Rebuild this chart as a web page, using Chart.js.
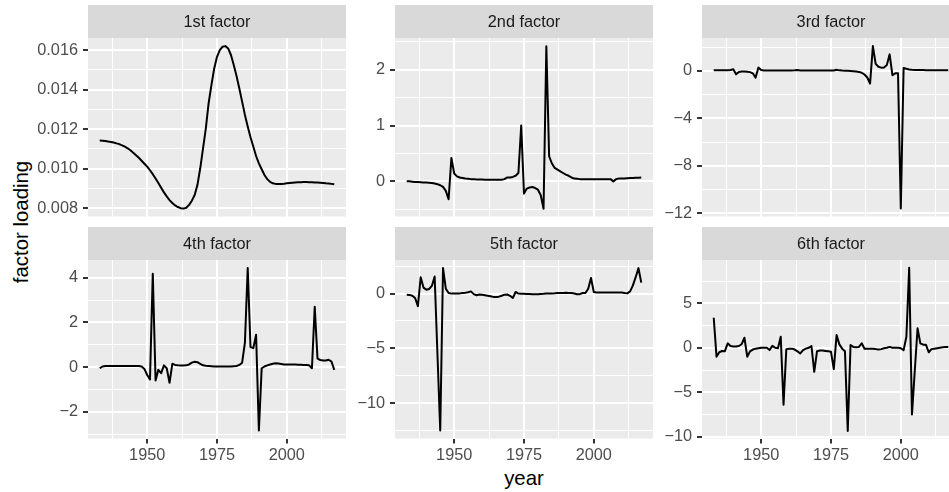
<!DOCTYPE html>
<html>
<head>
<meta charset="utf-8">
<script src="https://cdn.jsdelivr.net/npm/chart.js@4.4.0/dist/chart.umd.min.js"></script>
<style>
  html, body { margin: 0; padding: 0; background: #fff; overflow: hidden; }
  #wrap { position: relative; width: 949px; height: 492px; overflow: hidden; }
  #wrap canvas { position: absolute; }
  .axtitle {
    position: absolute;
    font-family: "Liberation Sans", Arial, sans-serif;
    font-size: 20.4px;
    line-height: 1;
    color: #000;
    white-space: nowrap;
  }
  #xtitle { left: 524px; top: 468px; transform: translateX(-50%); }
  #ytitle { left: 21px; top: 221.5px; transform: translate(-50%, -50%) rotate(-90deg); }
</style>
</head>
<body>
<div id="wrap">
  <div class="axtitle" id="xtitle">year</div>
  <div class="axtitle" id="ytitle">factor loading</div>
</div>

<script>
/* ---------- data ---------- */
const years = [
  1933, 1934, 1935, 1936, 1937, 1938, 1939, 1940, 1941, 1942,
  1943, 1944, 1945, 1946, 1947, 1948, 1949, 1950, 1951, 1952,
  1953, 1954, 1955, 1956, 1957, 1958, 1959, 1960, 1961, 1962,
  1963, 1964, 1965, 1966, 1967, 1968, 1969, 1970, 1971, 1972,
  1973, 1974, 1975, 1976, 1977, 1978, 1979, 1980, 1981, 1982,
  1983, 1984, 1985, 1986, 1987, 1988, 1989, 1990, 1991, 1992,
  1993, 1994, 1995, 1996, 1997, 1998, 1999, 2000, 2001, 2002,
  2003, 2004, 2005, 2006, 2007, 2008, 2009, 2010, 2011, 2012,
  2013, 2014, 2015, 2016, 2017
];

const factor1 = [
  0.01142, 0.01141, 0.01140, 0.01137, 0.01135, 0.01132, 0.01128, 0.01124, 0.01118, 0.01111,
  0.01103, 0.01093, 0.01081, 0.01068, 0.01055, 0.01040, 0.01025, 0.01010, 0.00992, 0.00972,
  0.00950, 0.00927, 0.00903, 0.00880, 0.00860, 0.00841, 0.00826, 0.00814, 0.00806, 0.00800,
  0.00798, 0.00802, 0.00817, 0.00838, 0.00867, 0.00918, 0.01002, 0.01103, 0.01204, 0.01331,
  0.01423, 0.01507, 0.01566, 0.01600, 0.01617, 0.01620, 0.01608, 0.01575, 0.01524, 0.01469,
  0.01406, 0.01339, 0.01272, 0.01213, 0.01159, 0.01112, 0.01064, 0.01027, 0.00997, 0.00968,
  0.00947, 0.00933, 0.00926, 0.00923, 0.00923, 0.00923, 0.00924, 0.00926, 0.00928, 0.00929,
  0.00930, 0.00931, 0.00931, 0.00932, 0.00932, 0.00931, 0.00931, 0.00930, 0.00930, 0.00929,
  0.00928, 0.00926, 0.00925, 0.00923, 0.00921
];

const factor2 = [
  0.00, 0.00, -0.005, -0.01, -0.01, -0.015, -0.02, -0.02, -0.025, -0.03,
  -0.04, -0.05, -0.07, -0.10, -0.17, -0.32, 0.42, 0.14, 0.09, 0.07,
  0.06, 0.05, 0.045, 0.04, 0.04, 0.035, 0.035, 0.035, 0.03, 0.03,
  0.03, 0.03, 0.03, 0.03, 0.03, 0.04, 0.07, 0.07, 0.08, 0.10,
  0.15, 1.00, -0.22, -0.13, -0.11, -0.10, -0.12, -0.15, -0.25, -0.49,
  2.42, 0.45, 0.32, 0.24, 0.21, 0.18, 0.15, 0.12, 0.10, 0.07,
  0.05, 0.045, 0.04, 0.04, 0.04, 0.04, 0.04, 0.04, 0.04, 0.04,
  0.04, 0.04, 0.04, 0.04, 0.00, 0.04, 0.05, 0.05, 0.05, 0.055,
  0.06, 0.06, 0.065, 0.065, 0.07
];

const factor3 = [
  0.05, 0.05, 0.05, 0.05, 0.05, 0.05, 0.08, 0.15, -0.28, -0.08,
  -0.05, -0.05, -0.06, -0.10, -0.20, -0.56, 0.28, 0.08, 0.04, 0.03,
  0.03, 0.03, 0.03, 0.03, 0.03, 0.03, 0.03, 0.03, 0.03, 0.05,
  0.08, 0.04, 0.03, 0.03, 0.03, 0.03, 0.03, 0.03, 0.03, 0.03,
  0.03, 0.03, 0.03, 0.04, 0.10, 0.05, 0.03, 0.02, 0.01, 0.00,
  -0.02, -0.05, -0.08, -0.15, -0.30, -0.55, -1.06, 2.10, 0.60, 0.35,
  0.28, 0.30, 0.50, 1.40, -0.36, -0.20, -0.20, -11.60, 0.25, 0.18,
  0.12, 0.10, 0.09, 0.08, 0.07, 0.07, 0.06, 0.06, 0.06, 0.05,
  0.05, 0.05, 0.05, 0.05, 0.05
];

const factor4 = [
  -0.05, 0.03, 0.05, 0.05, 0.05, 0.05, 0.05, 0.05, 0.05, 0.05,
  0.05, 0.05, 0.05, 0.05, 0.05, 0.03, -0.08, -0.35, -0.55, 4.18,
  -0.60, -0.12, -0.27, 0.08, -0.05, -0.70, 0.15, 0.10, 0.08, 0.07,
  0.07, 0.08, 0.12, 0.20, 0.24, 0.22, 0.15, 0.08, 0.06, 0.05,
  0.04, 0.03, 0.03, 0.03, 0.03, 0.03, 0.03, 0.03, 0.04, 0.05,
  0.10, 0.20, 1.10, 4.43, 0.90, 0.85, 1.45, -2.83, -0.05, 0.03,
  0.08, 0.12, 0.15, 0.17, 0.16, 0.14, 0.12, 0.12, 0.12, 0.12,
  0.12, 0.11, 0.11, 0.10, 0.10, 0.08, -0.05, 2.70, 0.38, 0.32,
  0.30, 0.30, 0.33, 0.25, -0.12
];

const factor5 = [
  -0.10, -0.12, -0.20, -0.40, -1.15, 1.50, 0.55, 0.36, 0.42, 0.70,
  1.57, -5.50, -12.50, 2.33, 0.45, 0.06, 0.00, 0.00, 0.00, 0.02,
  0.05, 0.08, 0.12, 0.20, -0.05, -0.15, -0.08, -0.10, -0.15, -0.20,
  -0.25, -0.30, -0.30, -0.28, -0.20, -0.10, -0.08, -0.20, -0.40, 0.15,
  0.00, -0.02, -0.02, -0.03, -0.03, -0.05, -0.05, -0.05, -0.03, -0.02,
  0.00, 0.00, 0.02, 0.03, 0.05, 0.05, 0.06, 0.08, 0.06, 0.05,
  0.00, -0.05, -0.05, 0.05, 0.06, 0.45, 1.42, 0.15, 0.10, 0.10,
  0.10, 0.10, 0.10, 0.10, 0.10, 0.10, 0.10, 0.10, 0.05, 0.02,
  0.20, 0.75, 1.50, 2.33, 1.00
];

const factor6 = [
  3.38, -1.00, -0.50, -0.35, -0.38, 0.50, 0.20, 0.15, 0.15, 0.20,
  0.40, 1.13, -1.00, -0.40, -0.20, -0.10, -0.05, 0.00, 0.00, 0.00,
  -0.25, 0.22, 0.00, -0.05, 1.24, -6.40, -0.15, -0.10, -0.10, -0.20,
  -0.40, -0.64, -0.26, -0.10, 0.00, 0.20, -2.70, -0.38, -0.30, -0.30,
  -0.35, -0.40, -0.45, -2.40, 1.43, 0.38, -0.10, -0.38, -9.36, 0.30,
  0.10, 0.05, 0.10, 0.50, -0.10, -0.10, -0.10, -0.12, -0.15, -0.20,
  -0.15, -0.05, 0.00, 0.10, 0.00, 0.00, 0.00, -0.05, -0.26, 1.24,
  9.00, -7.50, -2.60, 2.20, 0.50, 0.35, 0.35, -0.50, -0.15, -0.10,
  -0.05, 0.00, 0.05, 0.10, 0.10
];

const stripTitles = ["1st factor", "2nd factor", "3rd factor", "4th factor", "5th factor", "6th factor"];

// x axis (shared)
const xMajor = [1950, 1975, 2000];
const xMinor = [1937.5, 1962.5, 1987.5, 2012.5];
const xLimits = [1928.8, 2021.2];

// y axes (free per panel)
const yMajor1 = [0.008, 0.010, 0.012, 0.014, 0.016];
const yMinor1 = [0.009, 0.011, 0.013, 0.015];
const yMajor2 = [0, 1, 2];
const yMinor2 = [-0.5, 0.5, 1.5, 2.5];
const yMajor3 = [-12, -8, -4, 0];
const yMinor3 = [-10, -6, -2, 2];
const yMajor4 = [-2, 0, 2, 4];
const yMinor4 = [-3, -1, 1, 3];
const yMajor5 = [-10, -5, 0];
const yMinor5 = [-12.5, -7.5, -2.5, 2.5];
const yMajor6 = [-10, -5, 0, 5];
const yMinor6 = [-7.5, -2.5, 2.5, 7.5];

const yLimits1 = [0.00758, 0.01661];
const yLimits2 = [-0.63, 2.57];
const yLimits3 = [-12.28, 2.78];
const yLimits4 = [-3.19, 4.79];
const yLimits5 = [-13.24, 3.07];
const yLimits6 = [-10.2, 9.87];

/* ---------- layout ---------- */
const COL_LEFT = [88, 395, 702];   // left edge of each plot panel
const STRIP_TOP = [5, 227];        // top of the grey strip, per row
const PANEL_W = 258;
const PANEL_H = 178.5;
const STRIP_H = 33;
const AXIS_W = 80;                 // room for y tick labels
const FONT = '"Liberation Sans", Arial, sans-serif';

const panels = [
  { values: factor1, major: yMajor1, minor: yMinor1, lim: yLimits1, dec: 3 },
  { values: factor2, major: yMajor2, minor: yMinor2, lim: yLimits2, dec: 0 },
  { values: factor3, major: yMajor3, minor: yMinor3, lim: yLimits3, dec: 0 },
  { values: factor4, major: yMajor4, minor: yMinor4, lim: yLimits4, dec: 0 },
  { values: factor5, major: yMajor5, minor: yMinor5, lim: yLimits5, dec: 0 },
  { values: factor6, major: yMajor6, minor: yMinor6, lim: yLimits6, dec: 0 },
];

/* ---------- helpers ---------- */
function makeTicks(major, minor) {
  return major.map(v => ({ value: v }))
    .concat(minor.map(v => ({ value: v, minor: true })))
    .sort((a, b) => a.value - b.value);
}

function fmt(v, dec) {
  return v.toFixed(dec).replace("-", "\u2212");
}

function gridOpts(withTicks) {
  return {
    color: "#FFFFFF",
    lineWidth: c => (c.tick && c.tick.minor ? 1 : 2),
    drawTicks: withTicks,
    tickLength: 5,
    tickWidth: 2,
    tickColor: c => (c.tick && c.tick.minor ? "rgba(0,0,0,0)" : "#333333"),
  };
}

// grey panel + strip with its title
const stripPlugin = {
  id: "strip",
  beforeDraw(chart, args, opts) {
    const { ctx, chartArea: a } = chart;
    ctx.save();
    ctx.fillStyle = "#EBEBEB";
    ctx.fillRect(a.left, a.top, a.right - a.left, a.bottom - a.top);
    ctx.fillStyle = "#D9D9D9";
    ctx.fillRect(a.left, a.top - STRIP_H, a.right - a.left, STRIP_H);
    ctx.fillStyle = "#1A1A1A";
    ctx.font = "16.3px " + FONT;
    ctx.textAlign = "center";
    ctx.textBaseline = "middle";
    ctx.fillText(opts.text, (a.left + a.right) / 2, a.top - STRIP_H / 2 + 1);
    ctx.restore();
  }
};

/* ---------- build the six panels ---------- */
const wrap = document.getElementById("wrap");

panels.forEach((p, i) => {
  const col = i % 3;
  const row = Math.floor(i / 3);
  const bottomRow = row === 1;
  const xAxisH = bottomRow ? 30.5 : 2.5;
  const padBottom = bottomRow ? 0 : 10;

  const cv = document.createElement("canvas");
  cv.width = AXIS_W + PANEL_W;
  cv.height = Math.round(STRIP_H + PANEL_H + xAxisH + padBottom);
  cv.style.left = (COL_LEFT[col] - AXIS_W) + "px";
  cv.style.top = STRIP_TOP[row] + "px";
  wrap.appendChild(cv);

  new Chart(cv, {
    type: "line",
    data: {
      datasets: [{
        data: years.map((yr, k) => ({ x: yr, y: p.values[k] })),
        borderColor: "#000000",
        borderWidth: 2,
        borderJoinStyle: "round",
        pointRadius: 0,
        tension: 0,
        fill: false,
      }]
    },
    options: {
      responsive: false,
      animation: false,
      devicePixelRatio: 1,
      layout: { padding: { top: STRIP_H, left: 0, right: 0, bottom: padBottom } },
      plugins: {
        legend: { display: false },
        tooltip: { enabled: false },
        strip: { text: stripTitles[i] },
      },
      scales: {
        x: {
          type: "linear",
          min: xLimits[0],
          max: xLimits[1],
          afterBuildTicks: s => { s.ticks = makeTicks(xMajor, xMinor); },
          afterFit: s => { s.height = xAxisH; s.paddingLeft = 0; s.paddingRight = 0; },
          border: { display: false },
          grid: gridOpts(bottomRow),
          ticks: {
            display: bottomRow,
            autoSkip: false,
            maxRotation: 0,
            padding: 2,
            color: "#4D4D4D",
            font: { family: FONT, size: 16.3 },
            callback: (v, k, t) => (t[k].minor ? "" : String(v)),
          }
        },
        y: {
          min: p.lim[0],
          max: p.lim[1],
          afterBuildTicks: s => { s.ticks = makeTicks(p.major, p.minor); },
          afterFit: s => { s.width = AXIS_W; s.paddingTop = 0; s.paddingBottom = 0; },
          border: { display: false },
          grid: gridOpts(true),
          ticks: {
            autoSkip: false,
            padding: 5,
            color: "#4D4D4D",
            font: { family: FONT, size: 16.3 },
            callback: (v, k, t) => (t[k].minor ? "" : fmt(v, p.dec)),
          }
        }
      }
    },
    plugins: [stripPlugin]
  });
});
</script>
</body>
</html>
